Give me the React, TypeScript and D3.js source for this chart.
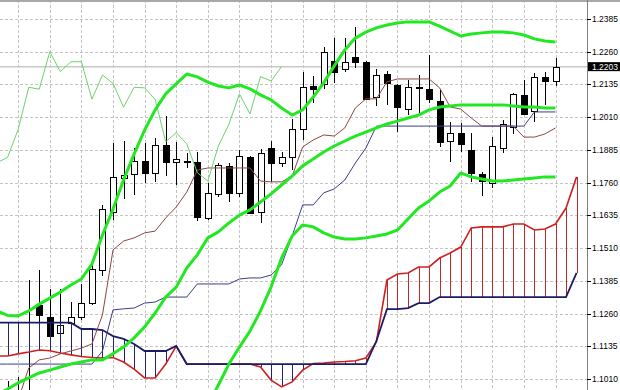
import React from 'react';
import * as d3 from 'd3';

const WIDTH = 620;
const HEIGHT = 390;
const AXIS_X = 587;

// ---------- candles (bar index starts at -1) ----------
const CANDLE_START = -1;
const opens = [
  1.0930, 1.0945, 1.0955, 1.1293, 1.1247, 1.1187, 1.1224, 1.1247, 1.1300, 1.1426,
  1.1648, 1.1779, 1.1793, 1.1843, 1.1798, 1.1904, 1.1840, 1.1843, 1.1839, 1.1626,
  1.1717, 1.1824, 1.1722, 1.1859, 1.1649, 1.1891, 1.1836, 1.1859, 1.1964, 1.2129,
  1.2136, 1.2225, 1.2193, 1.2241, 1.2222, 1.2088, 1.2175, 1.2133, 1.2040, 1.2125,
  1.2117, 1.2073, 1.1920, 1.1951, 1.1885, 1.1793, 1.1758, 1.1894, 1.1974, 1.2095,
  1.2035, 1.2165, 1.2148,
];
const highs = [
  1.1002, 1.1018, 1.1388, 1.1426, 1.1354, 1.1354, 1.1304, 1.1373, 1.1453, 1.1675,
  1.1911, 1.1919, 1.1892, 1.1911, 1.1931, 1.2015, 1.1915, 1.1873, 1.1877, 1.1759,
  1.1835, 1.1835, 1.1885, 1.1862, 1.1889, 1.1919, 1.1877, 1.2003, 1.2183, 1.2167,
  1.2278, 1.2312, 1.2312, 1.2354, 1.2225, 1.2194, 1.2186, 1.2137, 1.2152, 1.2171,
  1.2248, 1.2114, 1.1992, 1.1988, 1.1950, 1.1801, 1.1934, 1.1999, 1.2102, 1.2152,
  1.2179, 1.2183, 1.2236,
];
const lows = [
  1.0920, 1.0935, 1.0945, 1.1178, 1.1159, 1.1167, 1.1214, 1.1235, 1.1293, 1.1404,
  1.1617, 1.1698, 1.1713, 1.1759, 1.1763, 1.1785, 1.1751, 1.1816, 1.1614, 1.1617,
  1.1705, 1.1686, 1.1705, 1.1640, 1.1606, 1.1763, 1.1820, 1.1808, 1.1923, 1.2064,
  1.2118, 1.2141, 1.2183, 1.2198, 1.2076, 1.2053, 1.2057, 1.1953, 1.2018, 1.2026,
  1.2064, 1.1896, 1.1839, 1.1877, 1.1763, 1.1709, 1.1740, 1.1873, 1.1946, 1.2018,
  1.1992, 1.2057, 1.2129,
];
const closes = [
  1.0950, 1.0960, 1.0962, 1.1254, 1.1174, 1.1216, 1.1247, 1.1300, 1.1430, 1.1659,
  1.1782, 1.1788, 1.1843, 1.1798, 1.1904, 1.1839, 1.1849, 1.1839, 1.1629, 1.1720,
  1.1827, 1.1722, 1.1862, 1.1645, 1.1874, 1.1836, 1.1857, 1.1964, 1.2124, 1.2117,
  1.2260, 1.2184, 1.2222, 1.2222, 1.2079, 1.2171, 1.2139, 1.2048, 1.2124, 1.2122,
  1.2078, 1.1916, 1.1951, 1.1908, 1.1798, 1.1766, 1.1900, 1.1983, 1.2099, 1.2022,
  1.2165, 1.2148, 1.2203,
];

// ---------- Bollinger bands ----------
const BAND_START = -2;
const bbUpper = [
  1.1270, 1.1253, 1.1251, 1.1270, 1.1296, 1.1319, 1.1342, 1.1369, 1.1392, 1.1449,
  1.1560, 1.1659, 1.1770, 1.1869, 1.1961, 1.2038, 1.2099, 1.2137, 1.2175, 1.2164,
  1.2144, 1.2129, 1.2122, 1.2133, 1.2118, 1.2095, 1.2076, 1.2045, 1.2018, 1.2038,
  1.2087, 1.2141, 1.2206, 1.2267, 1.2312, 1.2335, 1.2351, 1.2362, 1.2370, 1.2374,
  1.2374, 1.2374, 1.2358, 1.2339, 1.2320, 1.2328, 1.2332, 1.2335, 1.2335, 1.2332,
  1.2324, 1.2309, 1.2301, 1.2297,
];
const bbMiddle = [
  1.0949, 1.0972, 1.0995, 1.1014, 1.1033, 1.1044, 1.1056, 1.1067, 1.1075, 1.1083,
  1.1083, 1.1106, 1.1132, 1.1167, 1.1209, 1.1262, 1.1323, 1.1361, 1.1434, 1.1484,
  1.1549, 1.1572, 1.1606, 1.1636, 1.1656, 1.1686, 1.1717, 1.1751, 1.1785, 1.1824,
  1.1850, 1.1877, 1.1900, 1.1919, 1.1938, 1.1953, 1.1969, 1.1984, 1.1995, 1.2007,
  1.2018, 1.2038, 1.2049, 1.2053, 1.2057, 1.2057, 1.2057, 1.2057, 1.2057, 1.2053,
  1.2049, 1.2049, 1.2045, 1.2045,
];
const LOWER_START = 14;
const bbLower = [
  1.0548, 1.0632, 1.0720, 1.0815, 1.0911, 1.0987, 1.1067, 1.1132, 1.1193, 1.1270,
  1.1361, 1.1472, 1.1556, 1.1598, 1.1591, 1.1568, 1.1552, 1.1545, 1.1545, 1.1549,
  1.1556, 1.1564, 1.1579, 1.1621, 1.1663, 1.1690, 1.1724, 1.1747, 1.1797, 1.1782,
  1.1774, 1.1766, 1.1766, 1.1770, 1.1774, 1.1778, 1.1782, 1.1782,
];

// ---------- Ichimoku ----------
const TENKAN_START = 0;
const tenkan = [
  1.0930, 1.1052, 1.1083, 1.1090, 1.1106, 1.1117, 1.1128, 1.1144, 1.1255, 1.1503,
  1.1537, 1.1549, 1.1568, 1.1575, 1.1625, 1.1667, 1.1724, 1.1808, 1.1816, 1.1816,
  1.1816, 1.1816, 1.1816, 1.1766, 1.1763, 1.1763, 1.1785, 1.1896, 1.1923, 1.1942,
  1.1938, 1.1969, 1.2045, 1.2080, 1.2080, 1.2145, 1.2156, 1.2156, 1.2156, 1.2156,
  1.2122, 1.2049, 1.2041, 1.2007, 1.1976, 1.1976, 1.1976, 1.1976, 1.1934, 1.1934,
  1.1946, 1.1969,
];
const KIJUN_START = -2;
const kijun = [
  1.1067, 1.1067, 1.1067, 1.1067, 1.1067, 1.1067, 1.1067, 1.1067, 1.1067, 1.1067,
  1.1117, 1.1274, 1.1278, 1.1281, 1.1300, 1.1304, 1.1323, 1.1323, 1.1323, 1.1373,
  1.1373, 1.1373, 1.1373, 1.1392, 1.1396, 1.1396, 1.1407, 1.1446, 1.1556, 1.1675,
  1.1675, 1.1721, 1.1736, 1.1770, 1.1835, 1.1892, 1.1976, 1.1976, 1.1976, 1.1976,
  1.1976, 1.1976, 1.1976, 1.1976, 1.1976, 1.1976, 1.1976, 1.1976, 1.1976, 1.1976,
  1.1976, 1.2030, 1.2030, 1.2030,
];
const SPAN_START = -2;
const spanA = [
  1.1098, 1.1098, 1.1106, 1.1113, 1.1121, 1.1118, 1.1109, 1.1102, 1.1096, 1.1092,
  1.1090, 1.1092, 1.1075, 1.1048, 1.1014, 1.1014, 1.1067, 1.1136, 1.1067, 1.1067,
  1.1067, 1.1067, 1.1067, 1.1067, 1.1067, 1.1056, 1.1006, 1.0980, 1.0999, 1.1044,
  1.1069, 1.1071, 1.1075, 1.1077, 1.1080, 1.1090, 1.1152, 1.1388, 1.1411, 1.1415,
  1.1438, 1.1438, 1.1472, 1.1491, 1.1514, 1.1587, 1.1591, 1.1591, 1.1591, 1.1602,
  1.1602, 1.1579, 1.1583, 1.1602, 1.1663, 1.1782,
];
const spanB = [
  1.1225, 1.1225, 1.1225, 1.1225, 1.1225, 1.1225, 1.1225, 1.1225, 1.1201, 1.1201,
  1.1197, 1.1174, 1.1163, 1.1144, 1.1117, 1.1117, 1.1117, 1.1136, 1.1067, 1.1067,
  1.1067, 1.1067, 1.1067, 1.1067, 1.1067, 1.1067, 1.1067, 1.1067, 1.1067, 1.1067,
  1.1067, 1.1067, 1.1067, 1.1067, 1.1067, 1.1067, 1.1155, 1.1277, 1.1277, 1.1281,
  1.1300, 1.1300, 1.1323, 1.1323, 1.1323, 1.1323, 1.1323, 1.1323, 1.1323, 1.1323,
  1.1323, 1.1323, 1.1323, 1.1323, 1.1323, 1.1415,
];
const CHIKOU_SHIFT = 26;

const yTickLabels = [
  '1.2385', '1.2260', '1.2135', '1.2010', '1.1885', '1.1760',
  '1.1635', '1.1510', '1.1385', '1.1260', '1.1135', '1.1010',
];
const lastPriceLabel = '1.2203';

type Pt = [number, number];

export default function App() {
  const x = d3.scaleLinear().domain([0, 51]).range([18.2, 555.5]);
  const y = d3.scaleLinear().domain([1.1010, 1.2385]).range([379, 19]);
  const series = (start: number, vals: number[]): Pt[] => vals.map((v, i) => [start + i, v]);
  const line = d3.line<Pt>().x(d => x(d[0])).y(d => y(d[1]));

  const candles = opens.map((o, i) => ({
    k: CANDLE_START + i, o, h: highs[i], l: lows[i], c: closes[i],
  }));
  const chikouStartIdx = (0 - CHIKOU_SHIFT) - CANDLE_START + CHIKOU_SHIFT; // index of bar whose close is plotted at bar -2
  const chikouVals = closes.slice(24 - CANDLE_START);
  const chikou = series(24 - CHIKOU_SHIFT, chikouVals);
  void chikouStartIdx;

  const gridK = d3.range(0, 52, 3);
  const tickVals = yTickLabels.map(Number);
  const lastPrice = Number(lastPriceLabel);
  const font = "'Liberation Sans', Arial, sans-serif";

  const aPts = series(SPAN_START, spanA);
  const bPts = series(SPAN_START, spanB);

  return (
    <div style={{ position: 'absolute', left: 0, top: 0, width: WIDTH, height: HEIGHT }}>
      <style>{'body{margin:0}'}</style>
      <svg width={WIDTH} height={HEIGHT} style={{ display: 'block', background: '#fff' }}>
        <defs>
          <clipPath id="plot">
            <rect x={0} y={0} width={AXIS_X} height={HEIGHT} />
          </clipPath>
        </defs>
        <rect x={0} y={0} width={WIDTH} height={HEIGHT} fill="#fff" />
        <g clipPath="url(#plot)">
          {/* grid */}
          {tickVals.map((v, i) => (
            <line key={'h' + i} x1={0} x2={AXIS_X} y1={Math.round(y(v)) + 0.5} y2={Math.round(y(v)) + 0.5}
              stroke="#c4c4c4" strokeDasharray="3,2" shapeRendering="crispEdges" />
          ))}
          {gridK.map(k => (
            <line key={'v' + k} x1={Math.round(x(k)) + 0.5} x2={Math.round(x(k)) + 0.5} y1={0} y2={HEIGHT}
              stroke="#c4c4c4" strokeDasharray="3,2" shapeRendering="crispEdges" />
          ))}
          {/* last price line */}
          <line x1={0} x2={AXIS_X} y1={y(lastPrice)} y2={y(lastPrice)} stroke="#c8c8c8" strokeWidth={1.5} />

          {/* candles */}
          {candles.map(d => {
            const cx = Math.round(x(d.k)) + 0.5;
            const top = Math.round(y(Math.max(d.o, d.c))) + 0.5;
            const bot = Math.round(y(Math.min(d.o, d.c))) + 0.5;
            const up = d.c >= d.o;
            return (
              <g key={'c' + d.k} shapeRendering="crispEdges">
                <line x1={cx} x2={cx} y1={y(d.h)} y2={y(d.l)} stroke="#000" />
                <rect x={cx - 3} y={top} width={6} height={Math.max(bot - top, 1)}
                  fill={up ? '#fff' : '#000'} stroke="#000" />
              </g>
            );
          })}

          {/* cloud hatches */}
          {aPts.map((p, i) => {
            const a = p[1];
            const b = spanB[i];
            const cx = Math.round(x(p[0])) + 0.5;
            return (
              <line key={'hat' + i} x1={cx} x2={cx} y1={y(a)} y2={y(b)}
                stroke={a > b ? '#bb2a2a' : '#22226e'} strokeWidth={1} shapeRendering="crispEdges" />
            );
          })}
          <path d={line(aPts) || ''} fill="none" stroke="#d02020" strokeWidth={1.6} />
          <path d={line(bPts) || ''} fill="none" stroke="#1c1c66" strokeWidth={1.8} />

          {/* tenkan / kijun / chikou */}
          <path d={line(series(TENKAN_START, tenkan)) || ''} fill="none" stroke="#8e4646" strokeWidth={1} />
          <path d={line(series(KIJUN_START, kijun)) || ''} fill="none" stroke="#3c3c8c" strokeWidth={1} />
          <path d={line(chikou) || ''} fill="none" stroke="#6ad46a" strokeWidth={1} />

          {/* Bollinger */}
          <path d={line(series(BAND_START, bbUpper)) || ''} fill="none" stroke="#22e822" strokeWidth={3} strokeLinejoin="round" />
          <path d={line(series(BAND_START, bbMiddle)) || ''} fill="none" stroke="#22e822" strokeWidth={3} strokeLinejoin="round" />
          <path d={line(series(LOWER_START, bbLower)) || ''} fill="none" stroke="#22e822" strokeWidth={3} strokeLinejoin="round" />
        </g>

        {/* frame */}
        <rect x={0} y={0} width={WIDTH} height={2} fill="#a8a8a8" />
        <line x1={AXIS_X + 0.5} x2={AXIS_X + 0.5} y1={0} y2={HEIGHT} stroke="#808080" shapeRendering="crispEdges" />

        {/* axis */}
        {tickVals.map((v, i) => (
          <g key={'t' + i}>
            <line x1={AXIS_X} x2={AXIS_X + 4} y1={Math.round(y(v)) + 0.5} y2={Math.round(y(v)) + 0.5} stroke="#000" shapeRendering="crispEdges" />
            <text x={592} y={y(v)} dy="0.35em" fontFamily={font} fontSize={8.5} fill="#000">{yTickLabels[i]}</text>
          </g>
        ))}
        <rect x={588} y={y(lastPrice) - 4.5} width={32} height={9} fill="#000" />
        <text x={592} y={y(lastPrice)} dy="0.35em" fontFamily={font} fontSize={8.5} fill="#fff">{lastPriceLabel}</text>
      </svg>
    </div>
  );
}
